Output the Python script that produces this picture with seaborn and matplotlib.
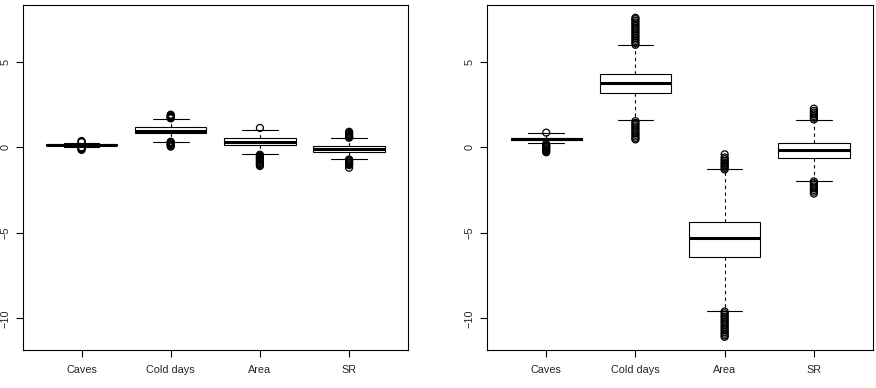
import numpy as np
import pandas as pd
import seaborn as sns
import matplotlib.pyplot as plt

# categories shared by both panels
cats = ["Caves", "Cold days", "Area", "SR"]

# left panel: box statistics
left_whisker_lo = [0.02, 0.33, -0.41, -0.68]
left_q1 = [0.10, 0.80, 0.10, -0.27]
left_median = [0.13, 0.97, 0.31, -0.10]
left_q3 = [0.16, 1.15, 0.51, 0.06]
left_whisker_hi = [0.27, 1.65, 1.03, 0.51]

# left panel: outliers
left_out_caves = [0.29, 0.32, 0.36, -0.01, -0.04, -0.08, -0.12, -0.16]
left_out_cold = [1.68, 1.72, 1.76, 1.80, 1.85, 1.90,
                 0.32, 0.28, 0.23, 0.18, 0.13, 0.08, 0.03]
left_out_area = [1.12,
                 -0.44, -0.50, -0.56, -0.62, -0.68, -0.74, -0.80,
                 -0.86, -0.92, -0.98, -1.04, -1.10]
left_out_sr = [0.55, 0.60, 0.66, 0.72, 0.78, 0.84, 0.90,
               -0.72, -0.77, -0.82, -0.88, -0.94, -1.00, -1.05, -1.20]

# right panel: box statistics
right_whisker_lo = [0.22, 1.56, -9.56, -1.97]
right_q1 = [0.44, 3.19, -6.44, -0.62]
right_median = [0.49, 3.75, -5.31, -0.19]
right_q3 = [0.54, 4.30, -4.36, 0.25]
right_whisker_hi = [0.80, 5.94, -1.27, 1.59]

# right panel: outliers
right_out_caves = [0.85, 0.18, 0.12, 0.06, 0.00, -0.06, -0.12, -0.18, -0.24, -0.30]
right_out_cold = [5.98, 6.08, 6.18, 6.28, 6.38, 6.48, 6.58, 6.68, 6.78,
                  6.88, 6.98, 7.08, 7.18, 7.28, 7.38, 7.48, 7.56,
                  1.52, 1.42, 1.32, 1.22, 1.12, 1.02, 0.92, 0.82,
                  0.72, 0.62, 0.52, 0.45]
right_out_area = [-1.30, -1.22, -1.14, -1.06, -0.98, -0.90, -0.80, -0.70,
                  -0.60, -0.42,
                  -9.60, -9.70, -9.80, -9.90, -10.00, -10.10, -10.20,
                  -10.30, -10.40, -10.50, -10.60, -10.70, -10.80,
                  -10.90, -11.00, -11.08]
right_out_sr = [1.62, 1.72, 1.82, 1.92, 2.02, 2.12, 2.25,
                -2.00, -2.10, -2.20, -2.30, -2.40, -2.50, -2.60, -2.71]


def box_frame(lo, q1, med, q3, hi):
    # five values per category give exactly these quartiles and whisker ends
    rows = []
    for i, c in enumerate(cats):
        for v in (lo[i], q1[i], med[i], q3[i], hi[i]):
            rows.append((c, v))
    return pd.DataFrame(rows, columns=["var", "value"])


def outlier_frame(groups):
    rows = []
    for c, vals in zip(cats, groups):
        rows.extend((c, v) for v in vals)
    return pd.DataFrame(rows, columns=["var", "value"])


panels = [
    (box_frame(left_whisker_lo, left_q1, left_median, left_q3, left_whisker_hi),
     outlier_frame([left_out_caves, left_out_cold, left_out_area, left_out_sr])),
    (box_frame(right_whisker_lo, right_q1, right_median, right_q3, right_whisker_hi),
     outlier_frame([right_out_caves, right_out_cold, right_out_area, right_out_sr])),
]

sns.set_style("ticks")
plt.rcParams["font.family"] = ["Liberation Sans", "DejaVu Sans"]
plt.rcParams["font.size"] = 7.8

fig = plt.figure(figsize=(8.76, 3.88), dpi=100)
axes_pos = [[0.0259, 0.0979, 0.4398, 0.8899],
            [0.5563, 0.0979, 0.4400, 0.8899]]

for pos, (box_df, out_df) in zip(axes_pos, panels):
    ax = fig.add_axes(pos)
    sns.boxplot(data=box_df, x="var", y="value", order=cats, whis=(0, 100),
                width=0.8, color="white", linecolor="black", linewidth=0.8,
                showfliers=False, saturation=1,
                medianprops=dict(linewidth=2.2),
                whiskerprops=dict(linestyle=(0, (3, 3))),
                ax=ax)
    sns.stripplot(data=out_df, x="var", y="value", order=cats, jitter=False,
                  marker="o", size=5, facecolors="none", edgecolor="black",
                  linewidth=0.9, ax=ax)
    ax.set_xlim(-0.66, 3.66)
    ax.set_ylim(-11.85, 8.32)
    ax.set_yticks([-10, -5, 0, 5])
    ax.set_xlabel("")
    ax.set_ylabel("")
    for lab in ax.get_yticklabels():
        lab.set_rotation(90)
        lab.set_va("center")
    ax.tick_params(axis="both", length=5, width=0.8, color="black", labelsize=7.8)
    ax.tick_params(axis="x", pad=6)
    ax.tick_params(axis="y", pad=4)
    for sp in ax.spines.values():
        sp.set_visible(True)
        sp.set_color("black")
        sp.set_linewidth(0.8)

fig.savefig("out.png", dpi=100)
